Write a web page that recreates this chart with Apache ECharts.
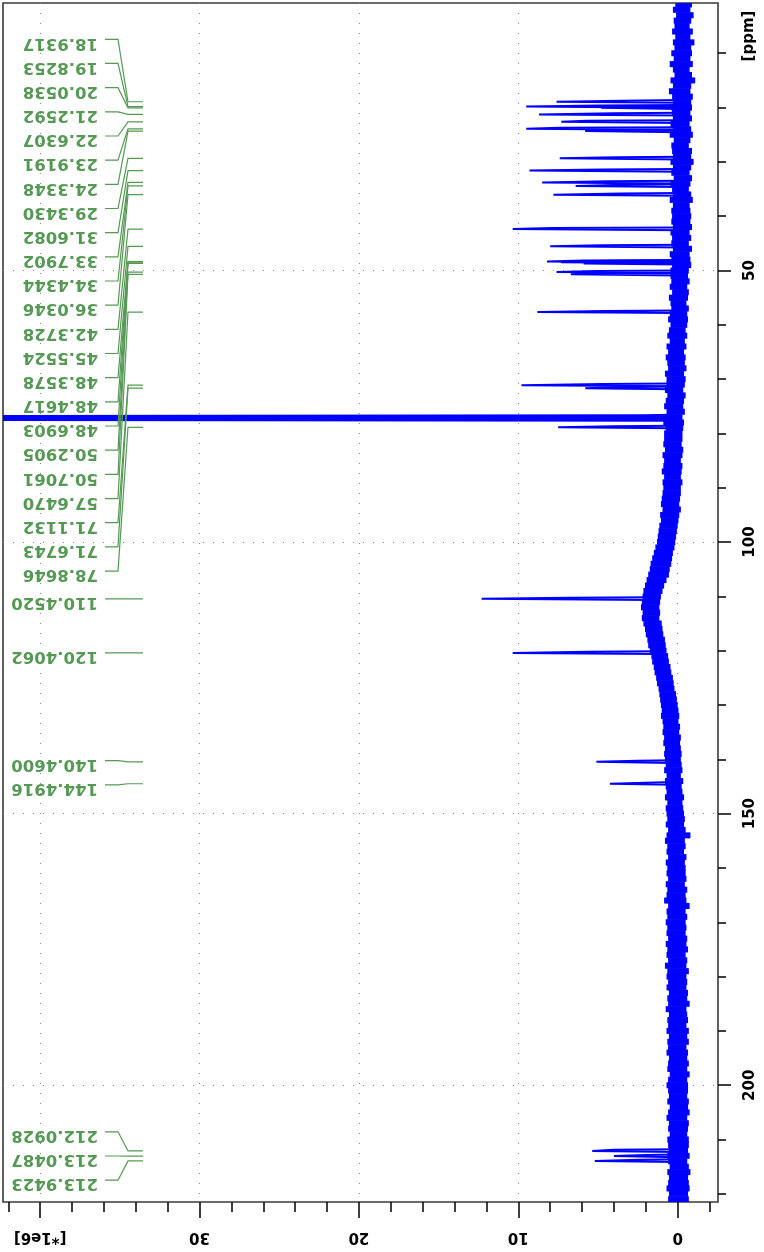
<!DOCTYPE html>
<html>
<head>
<meta charset="utf-8">
<script src="https://cdn.jsdelivr.net/npm/echarts@6/dist/echarts.min.js"></script>
<style>
html,body{margin:0;padding:0;background:#ffffff;}
#c{width:764px;height:1252px;}
</style>
</head>
<body>
<div id="c"></div>
<script>
// ---------------- DATA ----------------
// Baseline noise envelope, one sample per ppm starting at 1 ppm (intensity in 1e6 units)
const noiseStartPpm = 1;
const noiseStep = 1;
const noisePos = [
 0.15,0.30,0.10,0.25,0.20,0.35,0.15,0.30,0.20,0.40,
 0.25,0.50,0.30,0.20,0.45,0.30,0.55,0.35,0.30,0.40,
 0.35,0.30,0.45,0.30,0.50,0.25,0.40,0.35,0.30,0.45,
 0.30,0.40,0.25,0.45,0.35,0.30,0.50,0.30,0.40,0.35,
 0.40,0.30,0.45,0.35,0.40,0.30,0.50,0.40,0.35,0.45,
 0.45,0.40,0.50,0.35,0.55,0.45,0.40,0.50,0.60,0.45,
 0.55,0.65,0.50,0.70,0.60,0.75,0.65,0.60,0.80,0.70,
 0.70,0.80,0.65,0.75,0.85,0.70,0.80,0.90,0.75,0.85,
 0.85,0.90,0.80,0.95,0.85,0.90,1.00,0.85,0.95,0.90,
 0.95,1.00,1.05,0.95,1.10,1.05,1.15,1.20,1.25,1.30,
 1.40,1.50,1.60,1.70,1.75,1.85,1.95,2.05,2.15,2.20,
 2.25,2.30,2.20,2.25,2.15,2.05,2.00,1.90,1.85,1.75,
 1.65,1.60,1.50,1.45,1.35,1.30,1.20,1.15,1.10,1.05,
 1.00,1.05,0.95,0.90,0.95,0.85,0.90,0.80,0.85,0.80,
 0.75,0.85,0.70,0.80,0.75,0.70,0.80,0.65,0.75,0.70,
 0.65,0.75,0.60,0.70,0.80,0.65,0.70,0.60,0.75,0.65,
 0.70,0.60,0.75,0.65,0.70,0.85,0.60,0.70,0.65,0.75,
 0.65,0.70,0.60,0.75,0.65,0.70,0.60,0.80,0.65,0.70,
 0.60,0.70,0.55,0.65,0.60,0.75,0.55,0.65,0.60,0.70,
 0.55,0.65,0.60,0.70,0.55,0.60,0.65,0.50,0.60,0.70,
 0.60,0.55,0.65,0.50,0.60,0.70,0.55,0.60,0.50,0.65,
 0.60,0.55,0.65,0.60,0.50,0.65,0.55,0.60,0.70,0.55,
 0.60
];
const noiseNeg = [
 -0.90,-0.80,-1.00,-0.85,-0.75,-0.95,-0.80,-1.05,-0.85,-0.90,
 -0.80,-0.95,-0.75,-0.90,-1.10,-0.85,-0.80,-0.95,-0.85,-0.90,
 -0.80,-0.90,-0.75,-0.85,-0.95,-0.80,-0.70,-0.90,-0.85,-1.00,
 -0.85,-0.75,-0.90,-0.80,-0.70,-0.85,-0.95,-0.75,-0.80,-0.85,
 -0.80,-0.90,-0.75,-0.85,-0.70,-0.90,-0.75,-0.80,-0.85,-0.70,
 -0.65,-0.75,-0.60,-0.70,-0.65,-0.55,-0.70,-0.60,-0.65,-0.60,
 -0.50,-0.60,-0.45,-0.55,-0.40,-0.50,-0.45,-0.55,-0.40,-0.50,
 -0.45,-0.35,-0.50,-0.40,-0.35,-0.45,-0.30,-0.40,-0.35,-0.30,
 -0.30,-0.25,-0.35,-0.30,-0.20,-0.30,-0.25,-0.20,-0.30,-0.20,
 -0.20,-0.15,-0.10,-0.20,-0.10,-0.05,0.00,0.05,0.10,0.15,
 0.20,0.30,0.35,0.40,0.50,0.55,0.70,0.85,0.95,1.05,
 1.10,1.15,1.10,1.15,1.00,0.95,0.90,0.80,0.75,0.70,
 0.60,0.55,0.45,0.40,0.30,0.25,0.20,0.10,0.05,0.00,
 -0.05,-0.10,-0.05,-0.15,-0.10,-0.20,-0.15,-0.20,-0.25,-0.20,
 -0.25,-0.30,-0.20,-0.35,-0.25,-0.30,-0.40,-0.30,-0.35,-0.40,
 -0.45,-0.40,-0.50,-0.80,-0.45,-0.50,-0.40,-0.55,-0.45,-0.50,
 -0.50,-0.55,-0.45,-0.60,-0.50,-0.55,-0.75,-0.50,-0.60,-0.50,
 -0.55,-0.50,-0.60,-0.55,-0.65,-0.50,-0.60,-0.55,-0.70,-0.55,
 -0.60,-0.55,-0.65,-0.60,-0.75,-0.55,-0.60,-0.65,-0.55,-0.70,
 -0.60,-0.70,-0.55,-0.65,-0.60,-0.70,-0.60,-0.75,-0.60,-0.65,
 -0.65,-0.60,-0.70,-0.65,-0.75,-0.60,-0.70,-0.65,-0.60,-0.70,
 -0.70,-0.65,-0.75,-0.60,-0.70,-0.80,-0.65,-0.70,-0.75,-0.65,
 -0.70
];

// Peaks: position (ppm), maximum intensity, shoulder intensity (1e6 units)
const peakPpm = [18.9317,19.8253,20.0538,21.2592,22.6307,23.9191,24.3348,29.3430,31.6082,33.7902,
  34.4344,36.0346,42.3728,45.5524,48.3578,48.4617,48.6903,50.2905,50.7061,57.6470,
  71.1132,71.6743,76.84,77.16,77.48,78.8646,110.4520,120.4062,140.4600,144.4916,
  212.0928,213.0487,213.9423];
const peakHeight = [7.6,9.5,4.8,8.7,7.3,9.5,5.8,7.4,9.3,8.5,
  6.4,7.8,10.35,8.0,8.2,7.3,5.9,7.6,6.7,8.8,
  9.8,5.8,60,60,60,7.5,12.3,10.35,5.1,4.25,
  5.36,4.0,5.2];
const peakShoulder = [3.5,4.8,3.0,4.0,5.7,7.4,3.5,3.8,4.7,4.35,
  3.4,3.6,7.9,4.7,5.9,5.0,4.0,5.1,5.1,4.6,
  4.7,3.5,2.2,2.2,2.2,4.0,6.75,5.6,2.5,2.0,
  4.0,2.0,2.4];

// Peak labels (ppm)
const labelPpm = [18.9317,19.8253,20.0538,21.2592,22.6307,23.9191,24.3348,29.3430,31.6082,33.7902,
  34.4344,36.0346,42.3728,45.5524,48.3578,48.4617,48.6903,50.2905,50.7061,57.6470,
  71.1132,71.6743,78.8646,110.4520,120.4062,140.4600,144.4916,212.0928,213.0487,213.9423];

// Tick values
const intensityMajorTicks = [0,10,20,30,40];
const intensityMinorTicks = [-2,2,4,6,8,12,14,16,18,22,24,26,28,32,34,36,38,42];
const ppmMajorTicks = [50,100,150,200];
const ppmMinorTicks = [10,20,30,40,60,70,80,90,110,120,130,140,160,170,180,190,210,220];
const intensityUnitLabel = '[*1e6]';
const ppmUnitLabel = '[ppm]';

// ---------------- CHART ----------------
const FONT = '"DejaVu Sans", sans-serif';
const BLUE = '#0000ff';
const GREEN = '#559955';
const X_MIN = -2.53, X_MAX = 42.33;
const Y_MIN = 0.75, Y_MAX = 221.5;

const noiseData = noisePos.map((v, i) => [noiseNeg[i], noiseStartPpm + i * noiseStep, v]);
function baseAt(ppm) {
  let i = Math.round((ppm - noiseStartPpm) / noiseStep);
  i = Math.max(0, Math.min(noisePos.length - 1, i));
  return (noisePos[i] + noiseNeg[i]) / 2;
}
const peakData = peakPpm.map((p, i) => [baseAt(p), p, peakHeight[i], peakShoulder[i]]);

function layoutLabels(ys, spacing, top, bottom) {
  const clusters = ys.map(y => ({n: 1, sum: y, pos: y}));
  function fix(c) {
    c.pos = c.sum / c.n - (c.n - 1) * spacing / 2;
    if (c.pos < top) c.pos = top;
    if (c.pos + (c.n - 1) * spacing > bottom) c.pos = bottom - (c.n - 1) * spacing;
  }
  clusters.forEach(fix);
  let changed = true;
  while (changed) {
    changed = false;
    for (let k = 0; k < clusters.length - 1; k++) {
      const a = clusters[k], b = clusters[k + 1];
      if (a.pos + a.n * spacing > b.pos + 0.01) {
        a.n += b.n; a.sum += b.sum; fix(a);
        clusters.splice(k + 1, 1);
        changed = true; break;
      }
    }
  }
  const out = [];
  clusters.forEach(c => { for (let j = 0; j < c.n; j++) out.push(c.pos + j * spacing); });
  return out;
}

const chart = echarts.init(document.getElementById('c'), null, {renderer: 'canvas'});
const tickLabelStyle = {color: '#000', fontFamily: FONT, fontWeight: 'bold', fontSize: 15};
const dotted = {show: true, lineStyle: {color: '#8a8a8a', width: 1, type: [1, 9]}};
const noLine = {show: false, onZero: false};

const option = {
  animation: false,
  backgroundColor: '#ffffff',
  grid: {left: 3, top: 3, right: 46, bottom: 50, show: true, borderColor: '#3a3a3a', borderWidth: 1.6, containLabel: false},
  xAxis: [
    {
      type: 'value', min: X_MIN, max: X_MAX, inverse: true, position: 'bottom',
      axisLine: noLine,
      axisTick: {show: true, customValues: intensityMajorTicks, length: 16, lineStyle: {color: '#000', width: 1.5}},
      axisLabel: Object.assign({customValues: intensityMajorTicks, rotate: 180, margin: 27,
        formatter: v => (v === 40 ? intensityUnitLabel : String(v))}, tickLabelStyle),
      splitLine: dotted
    },
    {
      type: 'value', min: X_MIN, max: X_MAX, inverse: true, position: 'bottom',
      axisLine: noLine,
      axisTick: {show: true, customValues: intensityMinorTicks, length: 10, lineStyle: {color: '#000', width: 1.5}},
      axisLabel: {show: false},
      splitLine: {show: false}
    }
  ],
  yAxis: [
    {
      type: 'value', min: Y_MIN, max: Y_MAX, inverse: true, position: 'right',
      axisLine: noLine,
      axisTick: {show: true, customValues: ppmMajorTicks, length: 13, lineStyle: {color: '#000', width: 1.5}},
      axisLabel: Object.assign({customValues: ppmMajorTicks, rotate: 90, margin: 25}, tickLabelStyle),
      splitLine: dotted
    },
    {
      type: 'value', min: Y_MIN, max: Y_MAX, inverse: true, position: 'right',
      axisLine: noLine,
      axisTick: {show: true, customValues: ppmMinorTicks, length: 8, lineStyle: {color: '#000', width: 1.5}},
      axisLabel: {show: false},
      splitLine: {show: false}
    }
  ],
  graphic: [
    {type: 'text', x: 749, y: 36, rotation: Math.PI / 2,
     style: {text: ppmUnitLabel, fill: '#000', font: 'bold 15px ' + FONT, align: 'center', verticalAlign: 'middle'}}
  ],
  series: [
    {
      type: 'custom', xAxisIndex: 0, yAxisIndex: 0, data: noiseData, z: 2, clip: true,
      encode: {x: 0, y: 1},
      renderItem: function (params, api) {
        const neg = api.value(0), p = api.value(1), pos = api.value(2);
        const a = api.coord([pos, p - noiseStep / 2]);
        const b = api.coord([neg, p + noiseStep / 2]);
        return {type: 'rect', shape: {x: a[0], y: a[1] - 0.3, width: b[0] - a[0], height: b[1] - a[1] + 0.6},
                style: {fill: BLUE}};
      }
    },
    {
      type: 'custom', xAxisIndex: 0, yAxisIndex: 0, data: peakData, z: 3, clip: true,
      encode: {x: 0, y: 1},
      renderItem: function (params, api) {
        const b = api.value(0), p = api.value(1), h = api.value(2), s = api.value(3);
        const pts = [api.coord([b, p - 0.3]), api.coord([s, p - 0.2]), api.coord([h, p]), api.coord([b, p + 0.2])];
        return {type: 'polyline', shape: {points: pts}, style: {stroke: BLUE, lineWidth: 2, fill: null}};
      }
    },
    {
      type: 'custom', xAxisIndex: 0, yAxisIndex: 0, z: 4,
      data: labelPpm.map(p => [0, p]),
      encode: {x: 0, y: 1},
      renderItem: function (params, api) {
        const cs = params.coordSys;
        const peakYs = labelPpm.map(p => api.coord([0, p])[1]);
        const ys = layoutLabels(peakYs, 24.17, cs.y + 36.3, cs.y + cs.height - 20);
        const i = params.dataIndex;
        const ly = ys[i], py = peakYs[i];
        const x0 = cs.x;
        return {
          type: 'group',
          children: [
            {type: 'polyline', shape: {points: [[x0 + 102, ly], [x0 + 115, ly], [x0 + 125, py], [x0 + 140, py]]},
             style: {stroke: GREEN, lineWidth: 1.2, fill: null}},
            {type: 'text', x: x0 + 95, y: ly + 3.5, rotation: Math.PI,
             style: {text: labelPpm[i].toFixed(4), fill: GREEN, font: 'bold 16.5px ' + FONT, align: 'left', verticalAlign: 'middle'}}
          ]
        };
      }
    }
  ]
};
chart.setOption(option);
</script>
</body>
</html>
